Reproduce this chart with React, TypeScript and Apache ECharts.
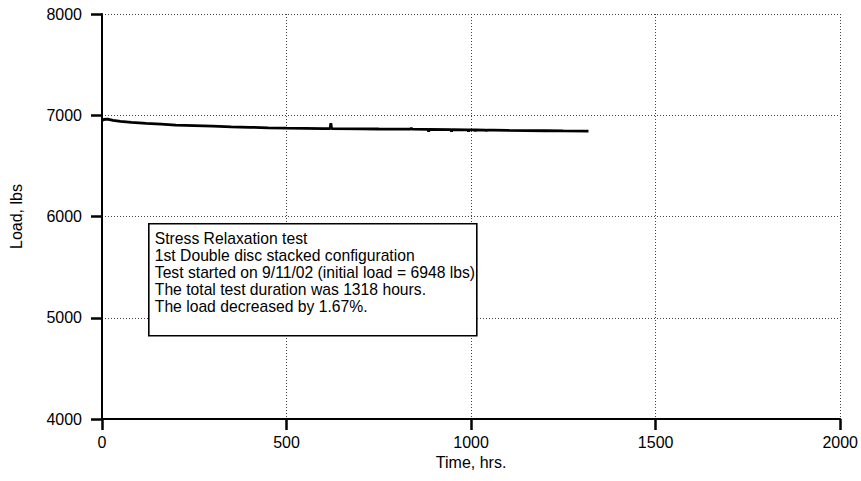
import React, { useEffect, useRef } from "react";
import * as echarts from "echarts";

// Time (hrs) and load (lbs)
const timeHrs = [0, 5, 15, 30, 50, 80, 120, 160, 200, 250, 300, 350, 400, 450, 500, 550, 600, 618, 620, 622, 700, 750, 836, 838, 840, 884, 885, 886, 946, 947, 948, 992, 993, 994, 1010, 1011, 1012, 1040, 1041, 1042, 1060, 1100, 1150, 1200, 1250, 1318];
const loadLbs = [6948, 6958, 6962, 6950, 6940, 6930, 6920, 6912, 6903, 6898, 6892, 6886, 6881, 6876, 6872, 6870, 6868, 6868, 6922, 6868, 6866, 6864, 6862, 6874, 6862, 6860, 6838, 6860, 6858, 6838, 6858, 6856, 6836, 6856, 6855, 6840, 6855, 6854, 6840, 6854, 6853, 6851, 6849, 6847, 6845, 6843];

const xTicks = { min: 0, max: 2000, interval: 500 };
const yTicks = { min: 4000, max: 8000, interval: 1000 };

const noteLines = [
  "Stress Relaxation test",
  "1st Double disc stacked configuration",
  "Test started on 9/11/02 (initial load = 6948 lbs)",
  "The total test duration was 1318 hours.",
  "The load decreased by 1.67%.",
];

const FONT = "Liberation Sans, Arial, Helvetica, sans-serif";

export default function App() {
  const ref = useRef<HTMLDivElement>(null);
  useEffect(() => {
    if (!ref.current) return;
    const chart = echarts.init(ref.current, null, { renderer: "svg" });
    const data = timeHrs.map((t, i) => [t, loadLbs[i]]);
    const plain = (v: number) => String(v);
    chart.setOption({
      animation: false,
      backgroundColor: "#ffffff",
      grid: { left: 101, right: 19, top: 14, bottom: 62, containLabel: false },
      xAxis: {
        type: "value",
        min: xTicks.min,
        max: xTicks.max,
        interval: xTicks.interval,
        name: "Time, hrs.",
        nameLocation: "middle",
        nameGap: 35,
        nameTextStyle: { color: "#000", fontFamily: FONT, fontSize: 16 },
        axisLine: { show: true, onZero: false, lineStyle: { color: "#000", width: 2 } },
        axisTick: { show: true, length: 11, lineStyle: { color: "#000", width: 2.5 } },
        axisLabel: { color: "#000", fontFamily: FONT, fontSize: 16, margin: 15, formatter: plain },
        splitLine: { show: true, lineStyle: { color: "#444", width: 1, type: [1, 2] } },
      },
      yAxis: {
        type: "value",
        min: yTicks.min,
        max: yTicks.max,
        interval: yTicks.interval,
        name: "Load, lbs",
        nameLocation: "middle",
        nameRotate: 90,
        nameGap: 78,
        nameTextStyle: { color: "#000", fontFamily: FONT, fontSize: 16 },
        axisLine: { show: true, onZero: false, lineStyle: { color: "#000", width: 2 } },
        axisTick: { show: true, length: 11, lineStyle: { color: "#000", width: 2.5 } },
        axisLabel: { color: "#000", fontFamily: FONT, fontSize: 16, margin: 20, formatter: plain },
        splitLine: { show: true, lineStyle: { color: "#444", width: 1, type: [1, 2] } },
      },
      series: [
        {
          type: "line",
          data,
          showSymbol: false,
          symbol: "none",
          lineStyle: { color: "#000", width: 2.8 },
          z: 3,
        },
      ],
      graphic: [
        {
          type: "group",
          left: 148,
          top: 223,
          z: 100,
          children: [
            {
              type: "rect",
              z: 100,
              shape: { x: 0, y: 0, width: 328, height: 112 },
              style: { fill: "#fff", stroke: "#000", lineWidth: 1.6 },
            },
            {
              type: "text",
              z: 101,
              x: 6,
              y: 6,
              style: {
                text: noteLines.join("\n"),
                fill: "#000",
                font: `15.7px ${FONT}`,
                lineHeight: 17,
              },
            },
          ],
        },
      ],
    });
    return () => chart.dispose();
  }, []);
  return <div ref={ref} style={{ width: 861, height: 481, position: "absolute", left: 0, top: 0 }} />;
}
